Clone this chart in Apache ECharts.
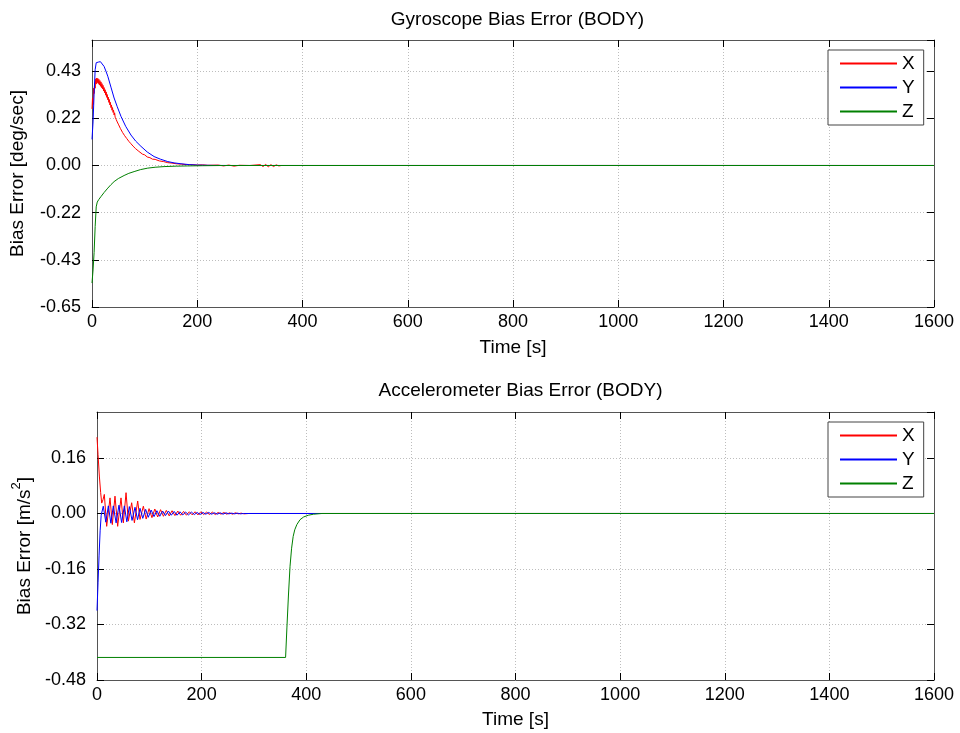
<!DOCTYPE html>
<html><head><meta charset="utf-8">
<script src="https://cdn.jsdelivr.net/npm/echarts@6/dist/echarts.min.js"></script>
<style>html,body{margin:0;padding:0;background:#fff}#c{width:960px;height:733px}</style>
</head><body><div id="c"></div>
<script>
// ---------- DATA ----------
const seriesNames = ['X', 'Y', 'Z'];
const titles = ['Gyroscope Bias Error (BODY)', 'Accelerometer Bias Error (BODY)'];
const timeRange = [0, 1600];
const timeStep = 200;

// Gyroscope bias error [deg/sec]: [time s, value]
const gyroX = [[0,0.26],[1,0.31],[2,0.28],[3,0.355],[4,0.33],[5,0.38],[6,0.355],[7,0.398],[8,0.374],[9,0.402],[10,0.38],[11,0.4],[12,0.376],[13,0.396],[14,0.37],[15,0.39],[16,0.364],[17,0.384],[18,0.358],[19,0.376],[20,0.352],[21,0.368],[22,0.342],[23,0.358],[24,0.334],[25,0.348],[26,0.323],[27,0.338],[28,0.313],[29,0.326],[30,0.302],[31,0.314],[32,0.29],[33,0.303],[34,0.278],[35,0.29],[36,0.266],[37,0.278],[38,0.254],[39,0.266],[40,0.244],[41,0.254],[42,0.232],[43,0.242],[44,0.222],[45,0.231],[46,0.211],[47,0.22],[48,0.2],[49,0.209],[50,0.19],[52,0.19],[54,0.17],[56,0.172],[58,0.152],[60,0.155],[62,0.137],[64,0.14],[66,0.124],[68,0.126],[70,0.111],[72,0.113],[74,0.1],[76,0.1],[78,0.089],[80,0.089],[83,0.077],[86,0.076],[89,0.065],[92,0.064],[96,0.052],[100,0.049],[105,0.039],[110,0.036],[115,0.029],[120,0.028],[128,0.021],[136,0.018],[144,0.013],[152,0.011],[160,0.008],[170,0.006],[180,0.004],[190,0.004],[200,0.002],[210,0.003],[220,0.001],[240,0.002],[250,-0.002],[260,0.002],[270,-0.003],[280,0.001],[300,0],[320,0.004],[325,-0.005],[330,0.005],[335,-0.006],[340,0.004],[345,-0.005],[350,0.003],[355,-0.002],[360,0],[400,0],[1600,0]];
const gyroY = [[0,0.12],[2,0.2],[4,0.33],[6,0.44],[8,0.472],[12,0.475],[16,0.477],[19,0.475],[23,0.455],[27,0.43],[30,0.41],[36,0.36],[42,0.31],[48,0.27],[55,0.226],[64,0.18],[74,0.14],[83,0.112],[93,0.088],[105,0.062],[118,0.041],[130,0.029],[144,0.018],[156,0.012],[169,0.008],[185,0.004],[200,0.002],[230,0.0005],[260,0],[1600,0]];
const gyroZ = [[0,-0.54],[2,-0.48],[4,-0.4],[6,-0.28],[8,-0.19],[10,-0.168],[13,-0.156],[17,-0.143],[23,-0.124],[30,-0.104],[36,-0.088],[42,-0.074],[50,-0.06],[61,-0.046],[70,-0.036],[80,-0.028],[92,-0.019],[106,-0.012],[120,-0.008],[137,-0.005],[160,-0.003],[182,-0.002],[210,-0.001],[250,0],[1600,0]];

// Accelerometer bias error [m/s^2]: [time s, value]
const accX = [[0,0.22],[2,0.17],[4.5,0.108],[7,0.06],[9,0.03],[11.5,0.04],[14,0.055],[18.5,-0.037],[24.9,0.045],[29.3,-0.032],[34.4,0.05],[39.5,-0.037],[45.9,0.045],[50.4,-0.027],[55.5,0.06],[60,-0.022],[66.3,0.031],[71.5,-0.027],[77.8,0.036],[82.2,-0.017],[88.6,0.021],[94,-0.016],[99.5,0.014],[105,-0.012],[110.5,0.013],[116,-0.01],[121.5,0.011],[127,-0.008],[132.5,0.009],[138,-0.007],[143.5,0.008],[149,-0.006],[154.5,0.007],[160,-0.005],[165.5,0.006],[171,-0.005],[176.5,0.005],[182,-0.004],[187.5,0.005],[193,-0.004],[198.5,0.005],[204,-0.003],[209.5,0.004],[215,-0.003],[220.5,0.004],[226,-0.003],[231.5,0.003],[237,-0.002],[242.5,0.003],[248,-0.002],[253.5,0.002],[259,-0.002],[264.5,0.002],[270,-0.001],[275.5,0.001],[281,-0.001],[290,0],[1600,0]];
const accY = [[0,-0.28],[2,-0.2],[4,-0.12],[6,-0.05],[8,-0.005],[12,0.021],[16.8,-0.025],[21.7,0.022],[26.5,-0.028],[31.2,0.022],[36.5,-0.027],[42,0.024],[47,-0.026],[52.3,0.022],[57,-0.024],[61.8,0.02],[67,-0.02],[72.7,0.018],[77.5,-0.018],[82.2,0.015],[87.5,-0.014],[93,0.012],[98,-0.011],[103.5,0.01],[109,-0.009],[114.5,0.008],[120,-0.008],[125.5,0.007],[131,-0.006],[136.5,0.007],[142,-0.005],[147.5,0.006],[153,-0.005],[158.5,0.005],[164,-0.004],[169.5,0.004],[175,-0.004],[180.5,0.004],[186,-0.003],[191.5,0.003],[197,-0.003],[202.5,0.003],[208,-0.002],[213.5,0.003],[219,-0.002],[224.5,0.002],[230,-0.002],[235.5,0.002],[241,-0.002],[246.5,0.002],[252,-0.001],[257.5,0.001],[263,-0.001],[268.5,0.001],[274,-0.001],[280,0],[1600,0]];
const accZ = [[0,-0.415],[360.5,-0.415],[363,-0.33],[366,-0.235],[369,-0.152],[372,-0.1],[375,-0.066],[378,-0.047],[382,-0.032],[388,-0.018],[395,-0.01],[404,-0.005],[414,-0.002],[430,0],[1600,0]];

// y-axis tick settings
const gyroYAxis = {min: -0.65, max: 0.5765, interval: 0.65 / 3};
const accYAxis = {min: -0.48, max: 0.2926, interval: 0.16};

// ---------- CHART ----------
const FONT = "'Liberation Sans', Arial, Helvetica, sans-serif";
const colors = ['#ff0000', '#0000ff', '#008000'];
const grids = [
  {left: 91, top: 40, width: 843, height: 267},
  {left: 97, top: 412, width: 837, height: 268}
];
const frameColor = '#555';
const tickStyle = {color: '#000', width: 1};
const gridLine = {show: true, lineStyle: {color: '#bdbdbd', type: [1, 2], width: 1}};
const fmt = v => (Math.abs(v) < 1e-9 ? 0 : v).toFixed(2);

function xAxes(g, nameGap) {
  return [
    {gridIndex: g, type: 'value', position: 'bottom', min: timeRange[0], max: timeRange[1], interval: timeStep,
     axisLine: {onZero: false, lineStyle: {color: frameColor}},
     axisTick: {inside: true, length: 7, lineStyle: tickStyle},
     axisLabel: {fontSize: 18, color: '#000', margin: 6, fontFamily: FONT, formatter: v => String(Math.round(v))},
     splitLine: gridLine,
     name: 'Time [s]', nameLocation: 'middle', nameGap: nameGap,
     nameTextStyle: {fontSize: 19, color: '#000', fontFamily: FONT}},
    {gridIndex: g, type: 'value', position: 'top', min: timeRange[0], max: timeRange[1], interval: timeStep,
     axisLine: {onZero: false, lineStyle: {color: frameColor}},
     axisTick: {inside: true, length: 7, lineStyle: tickStyle},
     axisLabel: {show: false}, splitLine: {show: false}}
  ];
}
function yAxes(g, cfg, name, nameGap, rich) {
  const nts = {fontSize: 19, color: '#000', fontFamily: FONT};
  if (rich) nts.rich = rich;
  return [
    {gridIndex: g, type: 'value', position: 'left', min: cfg.min, max: cfg.max, interval: cfg.interval,
     axisLine: {onZero: false, lineStyle: {color: frameColor}},
     axisTick: {inside: true, length: 7, lineStyle: tickStyle},
     axisLabel: {fontSize: 18, color: '#000', margin: 11, fontFamily: FONT, formatter: fmt, showMaxLabel: false},
     splitLine: gridLine,
     name: name, nameLocation: 'middle', nameGap: nameGap, nameTextStyle: nts},
    {gridIndex: g, type: 'value', position: 'right', min: cfg.min, max: cfg.max, interval: cfg.interval,
     axisLine: {onZero: false, lineStyle: {color: frameColor}},
     axisTick: {inside: true, length: 7, lineStyle: tickStyle},
     axisLabel: {show: false}, splitLine: {show: false}}
  ];
}

function mkSeries(data, i, g) {
  return {type: 'line', name: seriesNames[i], xAxisIndex: g * 2, yAxisIndex: g * 2, data: data,
    symbol: 'none', showSymbol: false, animation: false,
    lineStyle: {color: colors[i], width: 1}, itemStyle: {color: colors[i]}, z: 3 + i};
}

function legend(top) {
  return {orient: 'vertical', left: 828, top: top, padding: [3, 9, 3, 12], itemGap: 3,
    itemWidth: 57, itemHeight: 2, icon: 'rect',
    data: seriesNames.map((n, i) => ({name: n, icon: 'rect', itemStyle: {color: colors[i], borderWidth: 0}})),
    selectedMode: false,
    backgroundColor: '#fff', borderColor: '#444', borderWidth: 1, borderRadius: 0,
    textStyle: {fontSize: 19, color: '#000', fontFamily: FONT, lineHeight: 21}};
}

const option = {
  animation: false,
  backgroundColor: '#fff',
  textStyle: {fontFamily: FONT},
  title: [
    {text: titles[0], left: 512.5, top: 5, textAlign: 'center',
     textStyle: {fontSize: 19, fontWeight: 'normal', color: '#000', fontFamily: FONT}},
    {text: titles[1], left: 515.5, top: 376, textAlign: 'center',
     textStyle: {fontSize: 19, fontWeight: 'normal', color: '#000', fontFamily: FONT}}
  ],
  legend: [legend(50), legend(422)],
  grid: grids,
  xAxis: [...xAxes(0, 31), ...xAxes(1, 30)],
  yAxis: [
    ...yAxes(0, gyroYAxis, 'Bias Error [deg/sec]', 65),
    ...yAxes(1, accYAxis, '{a|Bias Error [m/s}{s|2}{a|]}', 62,
      {a: {fontSize: 19, color: '#000', fontFamily: FONT, verticalAlign: 'bottom', lineHeight: 24},
       s: {fontSize: 13, color: '#000', fontFamily: FONT, verticalAlign: 'top', lineHeight: 24}})
  ],
  series: [
    mkSeries(gyroX, 0, 0), mkSeries(gyroY, 1, 0), mkSeries(gyroZ, 2, 0),
    mkSeries(accX, 0, 1), mkSeries(accY, 1, 1), mkSeries(accZ, 2, 1)
  ]
};
const chart = echarts.init(document.getElementById('c'), null, {renderer: 'canvas'});
chart.setOption(option);
</script></body></html>
